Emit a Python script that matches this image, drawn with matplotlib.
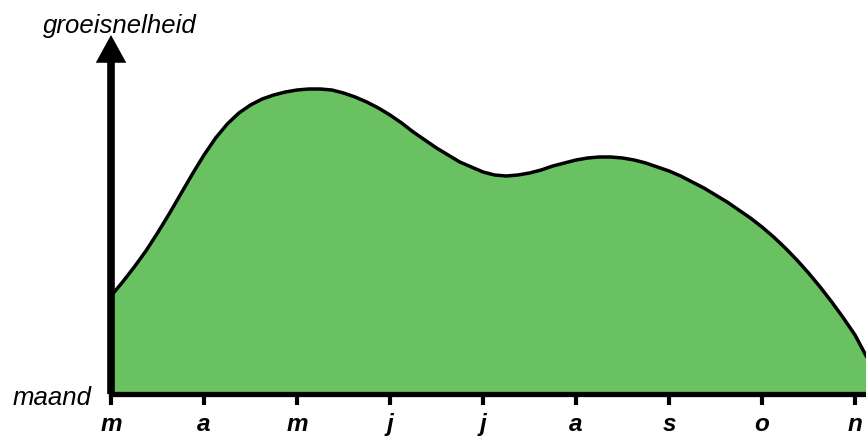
import numpy as np
import matplotlib as mpl
mpl.use("Agg")
import matplotlib.pyplot as plt

p = plt.rcParams
p["font.family"] = ["Liberation Sans", "DejaVu Sans"]

# months (march .. november) and growth curve
month_labels = ["m", "a", "m", "j", "j", "a", "s", "o", "n"]
t = [0.000, 0.125, 0.250, 0.375, 0.500, 0.625, 0.750, 0.875,
     1.000, 1.125, 1.250, 1.375, 1.500, 1.625, 1.750, 1.875,
     2.000, 2.125, 2.250, 2.375, 2.500, 2.625, 2.750, 2.875,
     3.000, 3.125, 3.250, 3.375, 3.500, 3.625, 3.750, 3.875,
     4.000, 4.125, 4.250, 4.375, 4.500, 4.625, 4.750, 4.875,
     5.000, 5.125, 5.250, 5.375, 5.500, 5.625, 5.750, 5.875,
     6.000, 6.125, 6.250, 6.375, 6.500, 6.625, 6.750, 6.875,
     7.000, 7.125, 7.250, 7.375, 7.500, 7.625, 7.750, 7.875,
     8.000, 8.120]
growth = [98, 112, 127, 143, 161, 180, 200, 220,
          239, 256, 270, 281, 289, 295, 299, 302,
          304, 305, 305, 304, 301, 297, 292, 286,
          279, 271, 262, 254, 246, 239, 232, 227,
          222, 219, 218, 219, 221, 224, 228, 231,
          234, 236, 237, 237, 236, 234, 231, 227,
          223, 218, 212, 206, 199, 192, 184, 176,
          167, 157, 146, 134, 121, 107, 92, 76,
          59, 38]

fill_color = "#6ac162"

fig = plt.figure(figsize=(8.66, 4.36), dpi=100)
ax = fig.add_axes([111/866, 42/436, 1 - 111/866, 359/436])
ax.set_xlim(0, 8.118)
ax.set_ylim(0, 359)

ax.fill_between(t, growth, 0, color=fill_color, lw=0, zorder=1)
ax.plot(t, growth, c="black", lw=2.5, solid_joinstyle="round", zorder=2)

# axes
for s in ["top", "right", "left"]:
    ax.spines[s].set_visible(False)
ax.spines["bottom"].set_linewidth(3.8)
ax.spines["bottom"].set_zorder(3)
ax.annotate("", xy=(0, 359), xytext=(0, 0), xycoords="data",
            arrowprops=dict(width=5.5, headwidth=22, headlength=20,
                            facecolor="black", edgecolor="black", lw=0,
                            shrink=0),
            annotation_clip=False, zorder=4)

ax.set_yticks([])
ax.set_xticks(range(len(month_labels)), month_labels)
ax.tick_params(axis="x", direction="out", length=8, width=3, pad=6,
               labelsize=17.5)
for lab in ax.get_xticklabels():
    lab.set_fontweight("bold")
    lab.set_fontstyle("italic")

fig.text(120/866, (436 - 33)/436, "groeisnelheid", ha="center",
         va="baseline", fontsize=18.5, fontstyle="italic")
fig.text(92/866, (436 - 405)/436, "maand", ha="right", va="baseline",
         fontsize=18.5, fontstyle="italic")

fig.savefig("out.png", dpi=100)
